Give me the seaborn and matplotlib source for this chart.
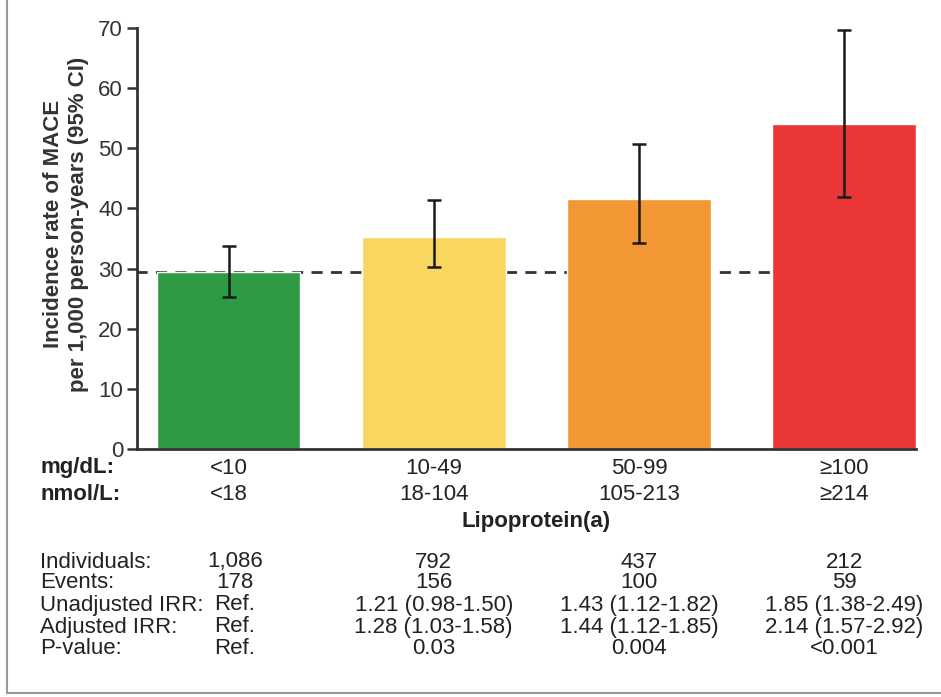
import matplotlib
matplotlib.use('Agg')
import matplotlib.pyplot as plt
import matplotlib.transforms as mtransforms
from matplotlib.lines import Line2D
import pandas as pd
import seaborn as sns

# 데이터
groups = ['<10', '10-49', '50-99', '≥100']
nmol = ['<18', '18-104', '105-213', '≥214']
rate = [29.4, 35.3, 41.6, 54.1]
ci_low = [25.2, 30.3, 34.3, 41.9]
ci_high = [33.8, 41.4, 50.7, 69.7]
colors = ['#2e9a44', '#f9d65f', '#f39634', '#ea3636']

row_names = ['Individuals:', 'Events:', 'Unadjusted IRR:', 'Adjusted IRR:', 'P-value:']
individuals = ['1,086', '792', '437', '212']
events = ['178', '156', '100', '59']
unadj_irr = ['Ref.', '1.21 (0.98-1.50)', '1.43 (1.12-1.82)', '1.85 (1.38-2.49)']
adj_irr = ['Ref.', '1.28 (1.03-1.58)', '1.44 (1.12-1.85)', '2.14 (1.57-2.92)']
p_values = ['Ref.', '0.03', '0.004', '<0.001']

df = pd.DataFrame({'group': groups, 'rate': rate})

sns.set_style('ticks')
plt.rcParams['font.family'] = ['Liberation Sans', 'DejaVu Sans']

fig = plt.figure(figsize=(9.41, 6.97), dpi=100)
ax = fig.add_axes([137 / 941, 1 - 449 / 697, 779 / 941, 421 / 697])

# 막대
sns.barplot(data=df, x='group', y='rate', hue='group', palette=colors,
            width=0.7, legend=False, ax=ax, zorder=2, saturation=1)

# 기준선 (첫 그룹 발생률)
ax.hlines(rate[0], -0.45, 2.65, colors='#333333', linestyles=(0, (4, 3)),
          linewidth=2, zorder=1)

# 95% CI 에러바
x = list(range(len(groups)))
yerr = [[r - lo for r, lo in zip(rate, ci_low)], [hi - r for r, hi in zip(rate, ci_high)]]
ax.errorbar(x, rate, yerr=yerr, fmt='none', ecolor='#1a1a1a', elinewidth=1.8,
            capsize=5, capthick=1.8, zorder=3)

ax.set_xlim(-0.446, 3.35)
ax.set_ylim(0, 70)
ax.set_yticks(range(0, 71, 10))
ax.set_xticks([])
ax.set_xlabel('')
ax.set_ylabel('Incidence rate of MACE\nper 1,000 person-years (95% CI)',
              fontsize=16, fontweight='bold', color='#333333', linespacing=1.25)
ax.yaxis.set_label_coords(-0.062, 0.534)
ax.tick_params(axis='y', labelsize=16, length=7, width=1.8, color='#333333',
               labelcolor='#333333', pad=3)
sns.despine(ax=ax)
for s in ['left', 'bottom']:
    ax.spines[s].set_linewidth(2)
    ax.spines[s].set_color('#333333')

# 아래 텍스트 (x는 데이터 좌표, y는 그림 좌표)
trans = mtransforms.blended_transform_factory(ax.transData, fig.transFigure)


def fy(ypix):
    return 1 - ypix / 697


txt = '#222222'
fig.text(40 / 941, fy(468), 'mg/dL:', fontsize=16, fontweight='bold', va='center', color=txt)
fig.text(40 / 941, fy(495), 'nmol/L:', fontsize=16, fontweight='bold', va='center', color=txt)
for i in x:
    ax.text(i, fy(468), groups[i], transform=trans, ha='center', va='center', fontsize=16, color=txt)
    ax.text(i, fy(495), nmol[i], transform=trans, ha='center', va='center', fontsize=16, color=txt)
ax.text(1.5, fy(522), 'Lipoprotein(a)', transform=trans, ha='center', va='center',
        fontsize=16, fontweight='bold', color=txt)

rows = [individuals, events, unadj_irr, adj_irr, p_values]
row_y = [562, 583, 605, 627, 648]
col_x = [0.03, 1, 2, 3]
for name, vals, yp in zip(row_names, rows, row_y):
    fig.text(40 / 941, fy(yp), name, fontsize=16, va='center', color=txt)
    for cx, v in zip(col_x, vals):
        ax.text(cx, fy(yp), v, transform=trans, ha='center', va='center', fontsize=16, color=txt)

# 바깥 테두리 (왼쪽, 아래)
fig.add_artist(Line2D([7 / 941, 7 / 941], [fy(693), 1], color='#999999', linewidth=1.5))
fig.add_artist(Line2D([7 / 941, 1], [fy(693), fy(693)], color='#999999', linewidth=1.5))

fig.savefig('out.png', dpi=100)
